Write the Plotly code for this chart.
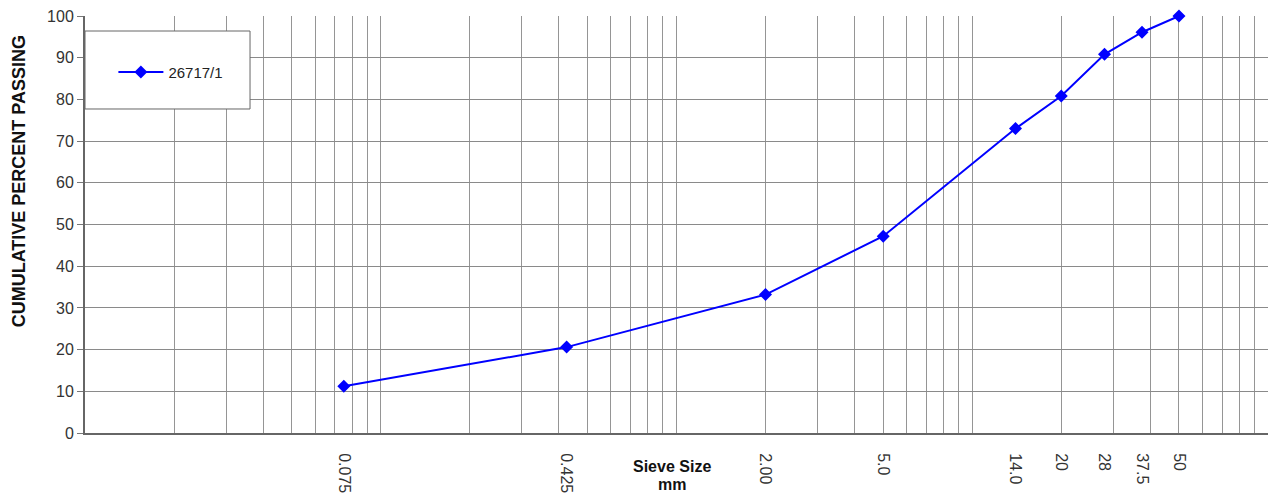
import plotly.graph_objects as go

sieve_sizes = [0.075, 0.425, 2.00, 5.0, 14.0, 20, 28, 37.5, 50]
sieve_labels = ["0.075", "0.425", "2.00", "5.0", "14.0", "20", "28", "37.5", "50"]
percent_passing = [11.2, 20.6, 33.2, 47.2, 73.0, 80.8, 90.8, 96.1, 100.0]
series_name = "26717/1"

grid_vals = [m * 10 ** e for e in range(-2, 2) for m in range(1, 10)] + [100]

FONT = "Liberation Sans, Arial, sans-serif"
BLUE = "#0000FF"

fig = go.Figure()
fig.add_trace(go.Scatter(
    x=sieve_sizes, y=percent_passing, name=series_name,
    mode="lines+markers", cliponaxis=False,
    line=dict(color=BLUE, width=2),
    marker=dict(symbol="diamond", size=10, color=BLUE),
))

fig.update_layout(
    width=1268, height=496,
    margin=dict(l=85, r=0, t=16, b=63, autoexpand=False),
    paper_bgcolor="white", plot_bgcolor="white",
    font=dict(family=FONT, color="#333333", size=16),
    showlegend=True,
    legend=dict(x=0.024, y=0.865, xanchor="left", yanchor="middle",
                bgcolor="rgba(0,0,0,0)", borderwidth=0, itemwidth=45,
                font=dict(size=15, color="#222222")),
    xaxis=dict(
        type="log", range=[-2, 2], automargin=False,
        tickvals=sieve_sizes, ticktext=sieve_labels,
        tickangle=90, ticks="", showgrid=False,
        tickfont=dict(size=16, color="#333333"),
        ticklabelstandoff=15,
        showline=True, linecolor="#666666", linewidth=2,
        minor=dict(tickvals=grid_vals, showgrid=True, gridcolor="#959595", gridwidth=1, ticks=""),
        zeroline=False,
    ),
    yaxis=dict(
        range=[0, 100], dtick=10, automargin=False,
        ticks="outside", ticklen=6, tickcolor="#777777",
        showgrid=True, gridcolor="#8a8a8a", gridwidth=1,
        showline=True, linecolor="#666666", linewidth=2,
        tickfont=dict(size=16, color="#333333"),
        zeroline=False,
    ),
    shapes=[dict(type="rect", xref="paper", yref="paper",
                 x0=0.0, x1=0.1395, y0=0.777, y1=0.964,
                 fillcolor="white", line=dict(color="#666666", width=1),
                 layer="above")],
    annotations=[
        dict(text="<b>Sieve Size</b>", xref="paper", yref="paper",
             x=0.496, y=-0.0815, xanchor="center", yanchor="middle",
             showarrow=False, font=dict(size=16, color="#111111")),
        dict(text="<b>mm</b>", xref="paper", yref="paper",
             x=0.496, y=-0.1235, xanchor="center", yanchor="middle",
             showarrow=False, font=dict(size=16, color="#111111")),
        dict(text="<b>CUMULATIVE PERCENT PASSING</b>", xref="paper", yref="paper",
             x=-0.056, y=0.603, xanchor="center", yanchor="middle", textangle=-90,
             showarrow=False, font=dict(size=18, color="#111111")),
    ],
)

fig.write_html(
    "out.html",
    config={"displayModeBar": False},
    post_script="document.body.style.margin='0';document.body.style.overflow='hidden';",
)
